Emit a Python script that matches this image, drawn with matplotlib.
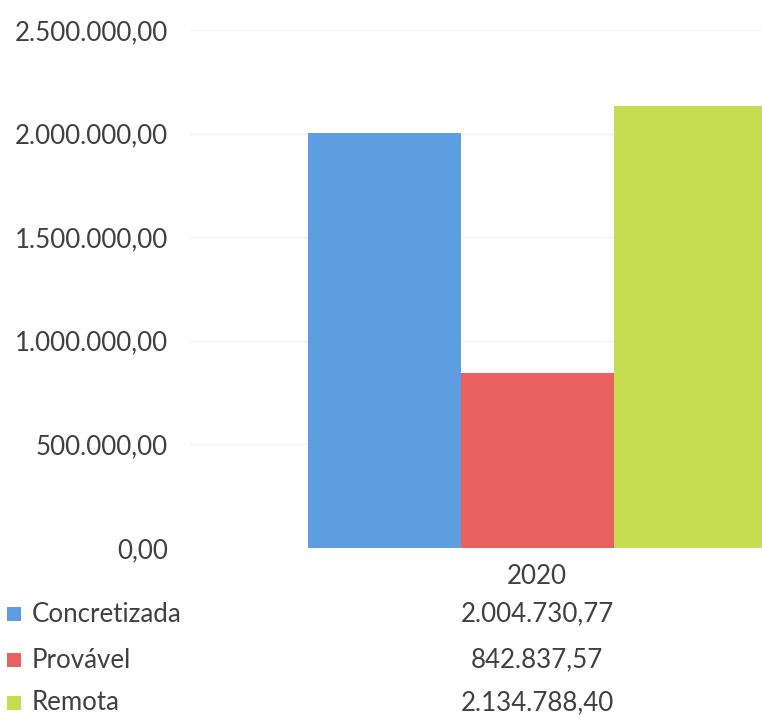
import matplotlib
matplotlib.use("Agg")
import matplotlib.pyplot as plt
import matplotlib.transforms as mtransforms
from matplotlib.ticker import FuncFormatter

categories = ["2020"]
series_names = ["Concretizada", "Provável", "Remota"]
values = [2004730.77, 842837.57, 2134788.40]
value_labels = ["2.004.730,77", "842.837,57", "2.134.788,40"]
colors = ["#5d9de0", "#e8605f", "#c6dd52"]
yticks = [0, 500000, 1000000, 1500000, 2000000, 2500000]

plt.rcParams['font.family'] = ['Lato', 'DejaVu Sans']
text_color = "#404040"
FS = 18.6

W, H = 762, 719
fig = plt.figure(figsize=(W / 100, H / 100), dpi=100)
left_px, right_px = 190, 884
bottom_px, top_px = 548, 30
ax = fig.add_axes([left_px / W, 1 - bottom_px / H, (right_px - left_px) / W, (bottom_px - top_px) / H])

bw = 153 / (right_px - left_px)
offsets = [-bw, 0, bw]
for i, (name, v, c) in enumerate(zip(series_names, values, colors)):
    ax.bar([0 + offsets[i]], [v], width=bw, color=c, label=name, zorder=2)

ax.set_xlim(-0.5, 0.5)
ax.set_ylim(0, 2500000)
ax.set_yticks(yticks)
fmt = lambda v, p: (f"{v:,.2f}").replace(",", "X").replace(".", ",").replace("X", ".")
ax.yaxis.set_major_formatter(FuncFormatter(fmt))
ax.tick_params(axis='y', length=0, pad=16, labelsize=FS, labelcolor=text_color)
ax.set_xticks([])
for s in ax.spines.values():
    s.set_visible(False)
ax.grid(axis='y', color="#f4f4f4", linewidth=1, zorder=0)

# data table below
trans = mtransforms.blended_transform_factory(ax.transData, fig.transFigure)
row_y = [576, 614, 660, 703]
fig.text(0, 1 - row_y[0] / H, categories[0], transform=trans, ha='center', va='center',
         fontsize=FS, color=text_color)
for i, (name, lab, c) in enumerate(zip(series_names, value_labels, colors)):
    y = 1 - row_y[i + 1] / H
    fig.text(0, y, lab, transform=trans, ha='center', va='center', fontsize=FS, color=text_color)
    fig.patches.append(plt.Rectangle((7 / W, y - 7 / H), 14 / W, 14 / H, transform=fig.transFigure,
                                     facecolor=c, edgecolor='none', figure=fig))
    fig.text(32 / W, y, name, ha='left', va='center', fontsize=FS, color=text_color)

fig.savefig("out.png", dpi=100, facecolor='white')
